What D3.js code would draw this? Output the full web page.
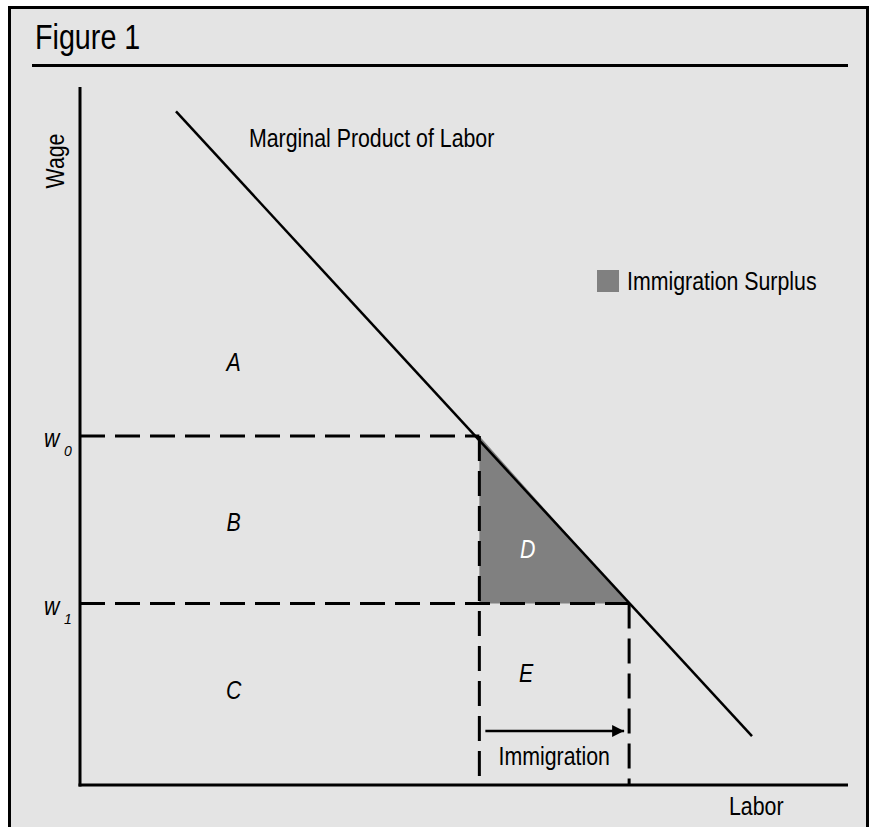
<!doctype html>
<html lang="en">
<head>
  <meta charset="utf-8">
  <title>Figure 1</title>
  <script src="https://cdn.jsdelivr.net/npm/d3@7"></script>
  <style type="text/css">
    body { margin: 0; background-color: #ffffff; }
    svg text { font-family: "Liberation Sans Narrow", "Arial Narrow", "Liberation Sans", Arial, sans-serif; fill: #000; }
    .lbl { font-size: 26px; }
    .region { font-size: 26px; font-style: italic; }
    .sub { font-size: 14px; font-style: italic; }
    .dash { stroke: #000; stroke-width: 3; stroke-dasharray: 25,10; fill: none; }
  </style>
</head>
<body>
<div id="container"></div>
<script type="text/javascript">

  // Chart values (labor and wage in arbitrary units 0..100)
  var mplLine = [ { labor: 12.5, wage: 96.5 }, { labor: 87.5, wage: 7 } ];
  var wages = [ { name: "w", sub: "0", value: 50 }, { name: "w", sub: "1", value: 26 } ];
  var laborLevels = [ 52, 71.5 ];
  var regions = [
    { name: "A", labor: 20, wage: 59.3 },
    { name: "B", labor: 20, wage: 36.4 },
    { name: "C", labor: 20, wage: 12.3 },
    { name: "D", labor: 58.3, wage: 32.5, white: true },
    { name: "E", labor: 58.1, wage: 14.8 }
  ];

  var width = 871, height = 827;

  // the reference uses a narrow sans; squeeze the regular one to match
  function narrow(sel) {
    sel.each(function() {
      var len = this.getComputedTextLength();
      d3.select(this)
        .attr("textLength", len * 0.82)
        .attr("lengthAdjust", "spacingAndGlyphs");
    });
  }

  var svg = d3.select("#container")
              .append("svg")
              .attr("width", width)
              .attr("height", height);

  svg.append("rect")
    .attr("x", 0).attr("y", 0)
    .attr("width", width).attr("height", height)
    .attr("fill", "#ffffff");

  // outer frame
  svg.append("rect")
    .attr("x", 9.5).attr("y", 7.5)
    .attr("width", 858).attr("height", 840)
    .attr("fill", "#e4e4e4")
    .attr("stroke", "#000")
    .attr("stroke-width", 3);

  // title
  svg.append("text")
    .attr("x", 35).attr("y", 49)
    .style("font-size", "35px")
    .text("Figure 1")
    .call(narrow);
  svg.append("line")
    .attr("x1", 32).attr("x2", 848)
    .attr("y1", 65.5).attr("y2", 65.5)
    .attr("stroke", "#000").attr("stroke-width", 3);

  // scales
  var x = d3.scaleLinear().domain([0, 100]).range([80, 848]);
  var y = d3.scaleLinear().domain([0, 100]).range([785, 87]);

  var w0 = wages[0].value, w1 = wages[1].value;
  var L0 = laborLevels[0], L1 = laborLevels[1];

  // immigration surplus triangle
  svg.append("path")
    .attr("d", d3.line()([[x(L0), y(w0)], [x(L0), y(w1)], [x(L1), y(w1)]]) + "Z")
    .attr("fill", "#808080");

  // dashed guides
  svg.selectAll(".hdash")
    .data(wages)
    .enter()
    .append("line")
    .attr("class", "dash")
    .attr("x1", x(0))
    .attr("x2", function(d, i) { return x(laborLevels[i]); })
    .attr("y1", function(d) { return y(d.value); })
    .attr("y2", function(d) { return y(d.value); });

  svg.selectAll(".vdash")
    .data(laborLevels)
    .enter()
    .append("line")
    .attr("class", "dash")
    .attr("x1", function(d) { return x(d); })
    .attr("x2", function(d) { return x(d); })
    .attr("y1", function(d, i) { return y(wages[i].value); })
    .attr("y2", y(0));

  // axes
  svg.append("line")
    .attr("x1", x(0)).attr("x2", x(0))
    .attr("y1", y(100)).attr("y2", y(0) + 1.5)
    .attr("stroke", "#000").attr("stroke-width", 3);
  svg.append("line")
    .attr("x1", x(0) - 1.5).attr("x2", x(100))
    .attr("y1", y(0)).attr("y2", y(0))
    .attr("stroke", "#000").attr("stroke-width", 3);

  // marginal product of labor
  svg.append("path")
    .attr("d", d3.line()
      .x(function(d) { return x(d.labor); })
      .y(function(d) { return y(d.wage); })(mplLine))
    .attr("fill", "none")
    .attr("stroke", "#000")
    .attr("stroke-width", 2.5);

  // arrow
  svg.append("defs").append("marker")
    .attr("id", "arrow")
    .attr("viewBox", "0 0 12 12")
    .attr("refX", 12).attr("refY", 6)
    .attr("markerWidth", 12).attr("markerHeight", 12)
    .attr("markerUnits", "userSpaceOnUse")
    .attr("orient", "auto")
    .append("path")
    .attr("d", "M0,0L12,6L0,12Z")
    .attr("fill", "#000");
  svg.append("line")
    .attr("x1", x(L0) + 6).attr("x2", x(L1) - 5)
    .attr("y1", 731).attr("y2", 731)
    .attr("stroke", "#000").attr("stroke-width", 2.5)
    .attr("marker-end", "url(#arrow)");

  // region letters
  svg.selectAll(".region")
    .data(regions)
    .enter()
    .append("text")
    .attr("class", "region")
    .attr("x", function(d) { return x(d.labor); })
    .attr("y", function(d) { return y(d.wage); })
    .attr("text-anchor", "middle")
    .style("fill", function(d) { return d.white ? "#ffffff" : "#000"; })
    .text(function(d) { return d.name; })
    .call(narrow);

  // wage labels, subscript as its own text
  svg.selectAll(".wlabel")
    .data(wages)
    .enter()
    .append("text")
    .attr("class", "region wlabel")
    .attr("x", 44)
    .attr("y", function(d) { return y(d.value) + 11; })
    .text(function(d) { return d.name; })
    .call(narrow);
  svg.selectAll(".wsub")
    .data(wages)
    .enter()
    .append("text")
    .attr("class", "sub wsub")
    .attr("x", 64)
    .attr("y", function(d) { return y(d.value) + 20; })
    .text(function(d) { return d.sub; });

  // other text
  svg.append("text").attr("class", "lbl")
    .attr("x", 249).attr("y", 147)
    .text("Marginal Product of Labor")
    .call(narrow);
  svg.append("text").attr("class", "lbl")
    .attr("transform", "translate(64,161) rotate(-90)")
    .attr("text-anchor", "middle")
    .text("Wage")
    .call(narrow);
  svg.append("text").attr("class", "lbl")
    .attr("x", 729).attr("y", 815)
    .text("Labor")
    .call(narrow);
  svg.append("text").attr("class", "lbl")
    .attr("x", (x(L0) + x(L1)) / 2).attr("y", 765)
    .attr("text-anchor", "middle")
    .text("Immigration")
    .call(narrow);

  // legend
  svg.append("rect")
    .attr("x", 597).attr("y", 270)
    .attr("width", 22).attr("height", 22)
    .attr("fill", "#808080");
  svg.append("text").attr("class", "lbl")
    .attr("x", 627).attr("y", 290)
    .text("Immigration Surplus")
    .call(narrow);

</script>
</body>
</html>
